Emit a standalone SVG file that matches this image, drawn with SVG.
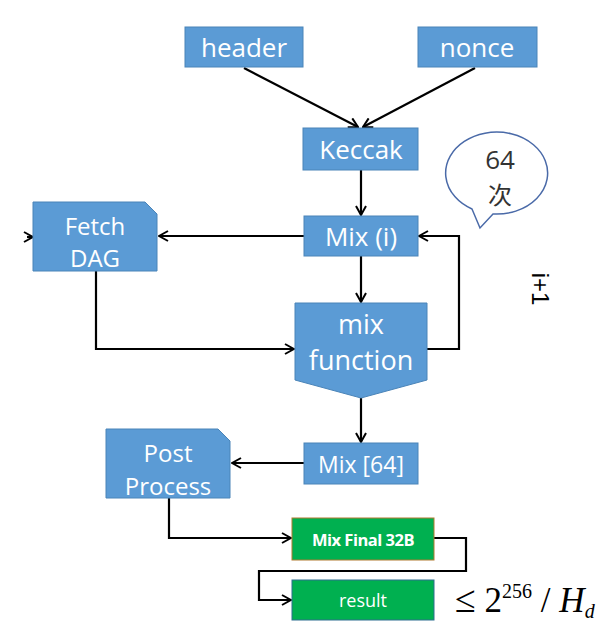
<svg xmlns="http://www.w3.org/2000/svg" width="614" height="630" viewBox="0 0 614 630">
<defs>
<marker id="arr" viewBox="0 0 12 12" refX="11" refY="6" markerWidth="12" markerHeight="12" markerUnits="userSpaceOnUse" orient="auto">
<polyline points="2,1 11,6 2,11" fill="none" stroke="#000" stroke-width="2"/>
</marker>
<style>
.box{fill:#5b9bd5;stroke:#4a84b8;stroke-width:1}
.t{fill:#fff;font-family:"Open Sans","Liberation Sans",sans-serif;text-anchor:middle;dominant-baseline:central}
.c{fill:none;stroke:#000;stroke-width:2.2}
.g{fill:#00b050}
</style>
</defs>
<rect width="614" height="630" fill="#fff"/>
<g id="connectors">
<line class="c" x1="244" y1="68" x2="358" y2="127" marker-end="url(#arr)"/>
<line class="c" x1="475" y1="68" x2="363" y2="127" marker-end="url(#arr)"/>
<line class="c" x1="361" y1="170" x2="361" y2="215" marker-end="url(#arr)"/>
<line class="c" x1="304" y1="236" x2="159" y2="236" marker-end="url(#arr)"/>
<line class="c" x1="27" y1="237" x2="33" y2="237" marker-end="url(#arr)"/>
<line class="c" x1="361" y1="256" x2="361" y2="302" marker-end="url(#arr)"/>
<polyline class="c" points="96,271 96,349 294,349" marker-end="url(#arr)"/>
<polyline class="c" points="427,349 459,349 459,236 419,236" marker-end="url(#arr)"/>
<line class="c" x1="361" y1="398" x2="361" y2="442" marker-end="url(#arr)"/>
<line class="c" x1="304" y1="463" x2="232" y2="463" marker-end="url(#arr)"/>
<polyline class="c" points="169,498 169,538 291,538" marker-end="url(#arr)"/>
<polyline class="c" points="434,538 466,538 466,571 259,571 259,600 291,600" marker-end="url(#arr)"/>
</g>
<g id="header"><rect class="box" x="185" y="27" width="118" height="40"/><text class="t" x="244" y="47" font-size="26">header</text></g>
<g id="nonce"><rect class="box" x="418" y="27" width="119" height="40"/><text class="t" x="477" y="47" font-size="26">nonce</text></g>
<g id="keccak"><rect class="box" x="303" y="128" width="115" height="42"/><text class="t" x="361" y="149" font-size="26">Keccak</text></g>
<g id="mixi"><rect class="box" x="304" y="216" width="114" height="40"/><text class="t" x="361" y="236" font-size="26">Mix (i)</text></g>
<g id="fetchdag"><path class="box" d="M33,202 H145 L157,214 V271 H33 Z"/><text class="t" x="95" y="225" font-size="24">Fetch</text><text class="t" x="95" y="257" font-size="24">DAG</text></g>
<g id="mixfunction"><path class="box" d="M295,303 H427 V380 L361,398 L295,380 Z"/><text class="t" x="361" y="323" font-size="27">mix</text><text class="t" x="361" y="359" font-size="27">function</text></g>
<g id="mix64"><rect class="box" x="304" y="443" width="114" height="41"/><text class="t" x="361" y="464" font-size="23">Mix [64]</text></g>
<g id="postprocess"><path class="box" d="M106,429 H218 L230,441 V498 H106 Z"/><text class="t" x="168" y="452" font-size="24">Post</text><text class="t" x="168" y="485" font-size="24">Process</text></g>
<g id="mixfinal"><rect class="g" x="292" y="518" width="142" height="42" stroke="#b07a30" stroke-width="1"/><text class="t" x="363" y="539" font-size="16.5" font-weight="bold" letter-spacing="-0.5">Mix Final 32B</text></g>
<g id="result"><rect class="g" x="292" y="580" width="142" height="40" stroke="#2f6f8f" stroke-width="1"/><text class="t" x="363" y="600" font-size="18">result</text></g>
<g id="bubble">
<path d="M472,209 A51,41 0 1 1 493,214 L480,228 Z" fill="#fff" stroke="#4a6aa8" stroke-width="1.5"/>
<text x="500" y="159" font-size="26" fill="#333" text-anchor="middle" dominant-baseline="central" font-family="'Open Sans','Liberation Sans',sans-serif">64</text>
<text x="500" y="193" font-size="24" fill="#333" text-anchor="middle" dominant-baseline="central" font-family="'Noto Sans CJK SC',sans-serif">次</text>
</g>
<text transform="translate(540,289) rotate(90)" font-size="24" fill="#000" text-anchor="middle" dominant-baseline="central" font-family="'Liberation Sans',sans-serif">i+1</text>
<text x="455" y="612" font-size="35" fill="#000" font-family="'Liberation Serif',serif"><tspan font-size="38">≤</tspan> 2<tspan font-size="20" dy="-14">256</tspan><tspan dy="14"> / </tspan><tspan font-style="italic">H</tspan><tspan font-size="20" font-style="italic" dy="6">d</tspan></text>
</svg>
